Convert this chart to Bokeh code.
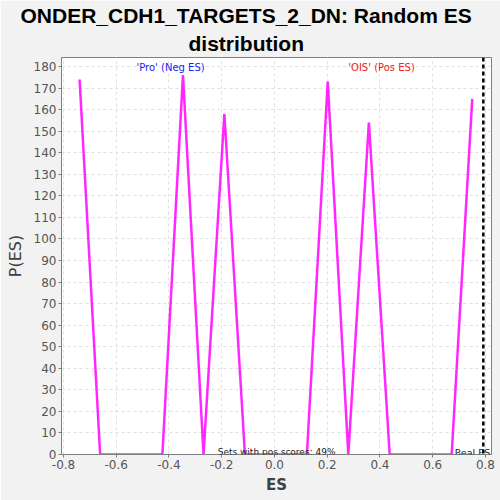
from bokeh.plotting import figure
from bokeh.models import Title, Span, Label, FixedTicker, CustomJSTickFormatter
from bokeh.embed import file_html
from bokeh.resources import INLINE

es_values = [-0.739, -0.661, -0.582, -0.504, -0.425, -0.347, -0.269, -0.190, -0.112, -0.033,
             0.045, 0.123, 0.202, 0.280, 0.358, 0.437, 0.515, 0.594, 0.672, 0.750]
p_es = [174, 0, 0, 0, 0, 176, 0, 158, 0, 0,
        0, 0, 173, 0, 154, 0, 0, 0, 0, 165]
real_es = 0.792
x_ticks = [-0.8, -0.6, -0.4, -0.2, 0.0, 0.2, 0.4, 0.6, 0.8]
y_ticks = list(range(0, 190, 10))
title_lines = ["ONDER_CDH1_TARGETS_2_DN: Random ES", "distribution"]
pos_text = "Sets with pos scores: 49%"

p = figure(width=500, height=500, output_backend="svg", toolbar_location=None,
           x_range=(-0.8076, 0.823), y_range=(0, 184.2),
           min_border_left=61, min_border_right=9, min_border_top=57, min_border_bottom=46)
p.background_fill_color = "white"
p.border_fill_color = "#F2F2F2"
p.outline_line_color = "#808080"

p.add_layout(Title(text=title_lines[1], align="left", offset=127, standoff=6,
                   text_font="Liberation Sans", text_font_size="21px",
                   text_font_style="bold", text_color="black"), "above")
p.add_layout(Title(text=title_lines[0], align="left", offset=-41, standoff=0,
                   text_font="Liberation Sans", text_font_size="21px",
                   text_font_style="bold", text_color="black"), "above")

p.line(es_values, p_es, line_color="#FF00FF", line_width=2.5, line_alpha=0.85)

p.add_layout(Span(location=real_es, dimension="height", line_color="black",
                  line_width=2.5, line_dash="4 3"))

p.xaxis.ticker = FixedTicker(ticks=x_ticks)
p.yaxis.ticker = FixedTicker(ticks=y_ticks)
p.xaxis.formatter = CustomJSTickFormatter(code="return tick.toFixed(1);")
for ax in (p.xaxis, p.yaxis):
    ax.major_label_text_font = "DejaVu Sans"
    ax.major_label_text_font_size = "12px"
    ax.major_label_text_color = "#555555"
    ax.axis_line_color = "#808080"
    ax.major_tick_line_color = "#808080"
    ax.minor_tick_line_color = None
    ax.major_tick_out = 3
    ax.major_tick_in = 0
    ax.major_label_standoff = 2
    ax.axis_label_text_font = "DejaVu Sans"
    ax.axis_label_text_color = "#404040"
p.xaxis.axis_label = "ES"
p.yaxis.axis_label = "P(ES)"
p.xaxis.axis_label_text_font_size = "15px"
p.xaxis.axis_label_text_font_style = "bold"
p.yaxis.axis_label_text_font_size = "16px"
p.yaxis.axis_label_text_font_style = "normal"
p.xaxis.axis_label_standoff = 4
p.yaxis.axis_label_standoff = 6

p.grid.grid_line_color = "#E0E0E0"
p.grid.grid_line_dash = "3 3"

p.add_layout(Label(x=-0.394, y=179.5, text="'Pro' (Neg ES)", text_color="#2222EE",
                   text_font="DejaVu Sans", text_font_size="10px", text_align="center",
                   text_baseline="middle"))
p.add_layout(Label(x=0.406, y=179.5, text="'OIS' (Pos ES)", text_color="#EE2222",
                   text_font="DejaVu Sans", text_font_size="10px", text_align="center",
                   text_baseline="middle"))
p.add_layout(Label(x=0.008, y=1.0, text=pos_text, text_color="#222222",
                   text_font="DejaVu Sans", text_font_size="9px", text_align="center",
                   text_baseline="alphabetic"))
p.add_layout(Label(x=0.818, y=1.0, text="Real ES", text_color="#222222",
                   text_font="DejaVu Sans", text_font_size="9.5px", text_align="right",
                   text_baseline="alphabetic"))

open("out.html", "w").write(file_html(p, INLINE))
